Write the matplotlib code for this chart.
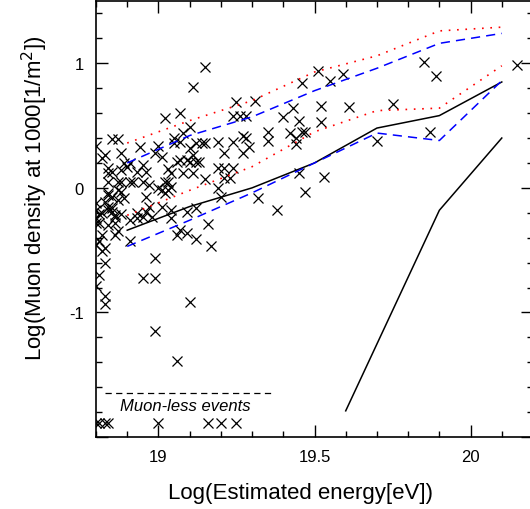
import matplotlib
matplotlib.use("Agg")
import matplotlib.pyplot as plt
from matplotlib.ticker import MultipleLocator

plt.rcParams['font.family'] = ['Liberation Sans', 'DejaVu Sans']

# events with a muon signal: log(E), log(rho_mu)
ev_x = [19.15, 19.11, 19.25, 19.31, 19.07, 19.02, 19.10, 19.24, 19.26, 19.28,
        19.40, 19.43, 19.45, 19.46, 19.42, 19.44, 19.44, 19.35, 19.35, 19.27,
        19.28, 19.29, 19.24, 19.19, 19.15, 19.14, 19.12, 19.07, 19.10, 19.11,
        19.21, 19.27, 19.05, 19.08, 19.00, 19.05, 18.99, 19.01, 18.94, 18.88,
        18.85, 18.87, 18.80, 18.83, 18.82, 18.89, 18.91, 18.84, 18.84, 18.85,
        18.88, 18.90, 18.93, 18.95, 18.96, 18.84, 18.87, 18.88, 18.91, 18.92,
        18.95, 18.97, 19.02, 19.03, 19.04, 18.87, 18.88, 18.87, 18.84, 18.96,
        19.01, 19.02, 19.00, 19.03, 19.04, 19.03, 19.06, 19.07, 19.09, 19.10,
        19.12, 19.13, 19.08, 19.11, 19.15, 19.19, 19.21, 19.24, 19.21, 19.23,
        19.19, 19.20, 19.32, 19.38, 19.45, 19.47, 19.53, 19.46, 19.51, 19.55,
        19.59, 19.52, 19.61, 19.75, 19.52, 19.47, 19.87, 19.70, 19.85, 19.89,
        20.15, 18.84, 18.85, 18.84, 18.85, 18.86, 18.80, 18.80, 18.80, 18.83,
        18.84, 18.85, 18.89, 18.97, 18.93, 18.96, 19.01, 19.04, 18.91, 18.93,
        18.95, 18.98, 19.04, 19.09, 19.12, 19.16, 19.07, 19.09, 19.06, 19.12,
        19.17, 18.81, 18.82, 18.86, 18.88, 18.80, 18.81, 18.84, 18.86, 18.82,
        18.81, 18.80, 18.83, 18.82, 18.87, 18.86, 18.91, 18.83, 18.81, 18.80,
        18.83, 18.83, 18.99, 18.95, 18.99, 19.10, 18.99, 19.06]
ev_y = [0.97, 0.81, 0.69, 0.70, 0.60, 0.56, 0.49, 0.58, 0.58, 0.58,
        0.57, 0.64, 0.54, 0.45, 0.44, 0.40, 0.35, 0.45, 0.38, 0.42,
        0.40, 0.33, 0.37, 0.37, 0.36, 0.36, 0.36, 0.37, 0.32, 0.26,
        0.28, 0.28, 0.40, 0.44, 0.34, 0.36, 0.28, 0.25, 0.33, 0.28,
        0.39, 0.39, 0.34, 0.26, 0.24, 0.20, 0.20, 0.16, 0.12, 0.13,
        0.14, 0.17, 0.13, 0.18, 0.13, 0.05, 0.05, 0.05, 0.05, 0.05,
        0.05, 0.02, 0.05, 0.05, 0.01, -0.02, -0.03, -0.10, -0.04, -0.07,
        -0.02, -0.04, 0.00, -0.02, 0.12, 0.15, 0.21, 0.22, 0.22, 0.21,
        0.21, 0.21, 0.12, 0.12, 0.07, 0.16, 0.16, 0.16, 0.08, 0.08,
        0.00, -0.07, -0.08, -0.18, 0.12, -0.03, 0.09, 0.84, 0.94, 0.86,
        0.91, 0.66, 0.65, 0.67, 0.53, 0.45, 0.45, 0.38, 1.01, 0.90,
        0.99, -0.15, -0.16, -0.18, -0.19, -0.23, -0.18, -0.24, -0.12, -0.11,
        -0.06, -0.07, -0.08, -0.15, -0.20, -0.19, -0.15, -0.18, -0.26, -0.24,
        -0.23, -0.23, -0.24, -0.19, -0.16, -0.29, -0.34, -0.36, -0.38, -0.41,
        -0.47, -0.21, -0.20, -0.22, -0.21, -0.28, -0.28, -0.30, -0.28, -0.38,
        -0.43, -0.46, -0.48, -0.51, -0.35, -0.38, -0.43, -0.60, -0.70, -0.79,
        -0.87, -0.93, -0.56, -0.72, -0.72, -0.92, -1.15, -1.39]

# muon-less events, drawn at a fixed level
ml_x = [18.80, 18.81, 18.83, 18.84, 19.00, 19.16, 19.20, 19.25]
ml_y = [-1.89] * len(ml_x)
ml_line_x = [18.83, 19.37]
ml_line_y = [-1.645, -1.645]

# expectation curves
grid_e = [18.9, 19.1, 19.3, 19.5, 19.7, 19.9, 20.1]
mean_line = [-0.34, -0.15, 0.00, 0.20, 0.48, 0.58, 0.85]
blue_lo = [-0.47, -0.26, -0.04, 0.20, 0.44, 0.38, 0.86]
blue_hi = [0.20, 0.42, 0.57, 0.78, 0.96, 1.16, 1.24]
red_lo = [-0.22, -0.02, 0.17, 0.45, 0.62, 0.64, 0.98]
red_hi = [0.36, 0.54, 0.70, 0.93, 1.06, 1.26, 1.29]
steep_x = [19.6, 19.9, 20.1]
steep_y = [-1.79, -0.18, 0.40]

fig = plt.figure(figsize=(5.3, 5.1), dpi=100)
ax = fig.add_axes([96 / 530, 72 / 510, 437 / 530, 436 / 510])

ax.plot(ev_x, ev_y, 'x', color='black', markersize=7, markeredgewidth=0.9)
ax.plot(ml_x, ml_y, 'x', color='black', markersize=7, markeredgewidth=0.9)
ax.plot(ml_line_x, ml_line_y, color='black', lw=0.9, dashes=(5, 3.5))
ax.text(18.877, -1.745, "Muon-less events", style='italic', fontsize=12,
        ha='left', va='center')

ax.plot(grid_e, mean_line, color='black', lw=1.1)
ax.plot(grid_e, blue_lo, color='#0000ff', lw=1.1, dashes=(6, 4))
ax.plot(grid_e, blue_hi, color='#0000ff', lw=1.1, dashes=(6, 4))
ax.plot(grid_e, red_lo, color='#ff0000', lw=1.2, dashes=(1, 4))
ax.plot(grid_e, red_hi, color='#ff0000', lw=1.2, dashes=(1, 4))
ax.plot(steep_x, steep_y, color='black', lw=1.1)

ax.set_xlim(18.8, 20.2)
ax.set_ylim(-2.0, 1.5)
ax.xaxis.set_major_locator(MultipleLocator(0.5))
ax.xaxis.set_minor_locator(MultipleLocator(0.1))
ax.yaxis.set_major_locator(MultipleLocator(1))
ax.yaxis.set_minor_locator(MultipleLocator(0.2))
ax.tick_params(which='both', direction='in', top=True, right=True,
               labelsize=12, width=1)
ax.tick_params(which='major', length=8.5, pad=9)
ax.tick_params(which='minor', length=4)
ax.xaxis.set_major_formatter(plt.FuncFormatter(lambda v, p: f"{v:g}"))
ax.yaxis.set_major_formatter(
    plt.FuncFormatter(lambda v, p: f"{v:g}" if v > -1.5 else ""))
for s in ax.spines.values():
    s.set_linewidth(1.2)

fig.text(301 / 530, 1 - 494 / 510, "Log(Estimated energy[eV])", fontsize=16,
         ha='center', va='center')
fig.text(35 / 530, 1 - 198 / 510, "Log(Muon density at 1000[1/m$^{2}$])",
         fontsize=16, ha='center', va='center', rotation=90)

fig.savefig("out.png", dpi=100)
